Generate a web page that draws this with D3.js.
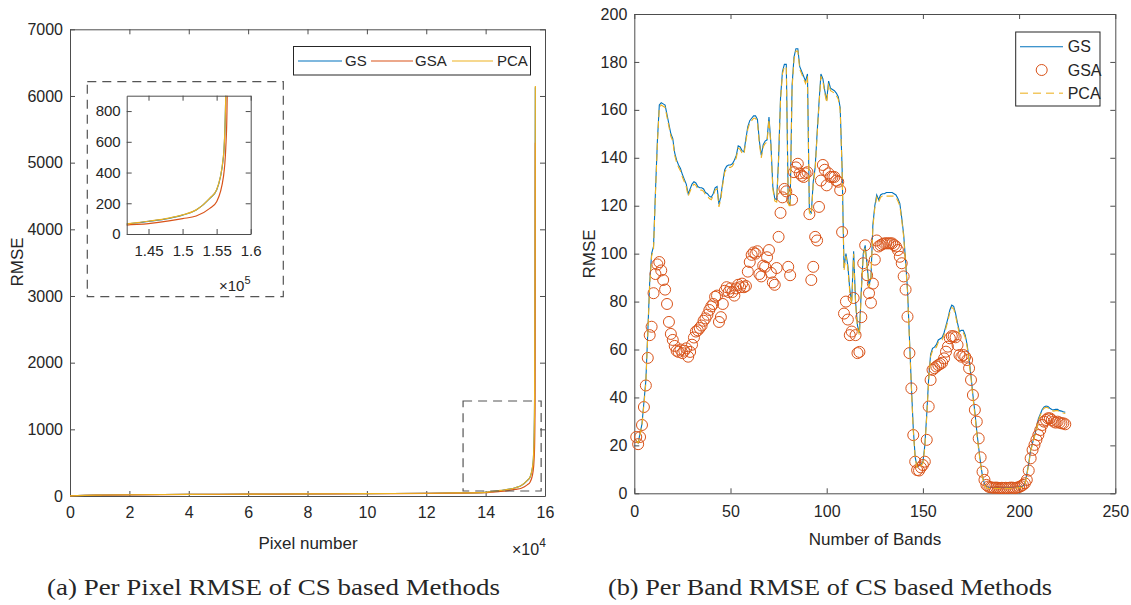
<!DOCTYPE html>
<html>
<head>
<meta charset="utf-8">
<script src="https://cdn.jsdelivr.net/npm/d3@7"></script>
<style>
body { margin: 0; background: #fff; }
text { font-family: "Liberation Sans", Arial, sans-serif; fill: #262626; }
.cap { font-family: "Liberation Serif", "DejaVu Serif", serif; }
</style>
</head>
<body>
<script>
var seriesNames = ["GS", "GSA", "PCA"];
var colors = ["#0072BD", "#D95319", "#EDB120"];

// (a) per pixel RMSE, sorted
var pixelNumber = [0, 5000, 10000, 20000, 40000, 60000, 80000, 100000, 120000, 130000, 140000, 141800,
    145000, 148000, 150000, 152000, 154000, 155000, 156000, 156340, 156500, 156650, 156750];
var pixelGS  = [2, 10, 14, 19, 24, 28, 32, 36, 41, 46, 55, 65, 82, 102, 123, 156, 232, 286, 503, 900, 1500, 3500, 6130];
var pixelGSA = [2, 9, 13, 18, 23, 27, 31, 34, 39, 43, 50, 58, 68, 85, 100, 117, 167, 210, 373, 560, 760, 1400, 5300];
var pixelPCA = [2, 10, 14, 19, 24, 28, 32, 36, 41, 46, 55, 66, 83, 103, 124, 157, 234, 288, 508, 910, 1520, 3550, 6150];
var pixelTicks = [0, 20000, 40000, 60000, 80000, 100000, 120000, 140000, 160000];
var pixelRmseTicks = [0, 1000, 2000, 3000, 4000, 5000, 6000, 7000];
var insetTicksX = [145000, 150000, 155000, 160000];
var insetTicksY = [0, 200, 400, 600, 800];

// (b) per band RMSE, bands 1..224
var bands = d3.range(1, 225);
var bandGS = [22,21,25,29,38,47,67,88,100,103,
  126,147,162,163,162.5,162,158,154,150,148,
  142,139,137,135.5,133,131,129,125,127,129,
  130,129.5,128,127.5,127.5,127,125.5,125,124,123.5,
  125,127.5,128,120.5,124,130,135,136.5,137,137,
  137.5,139,141,145,144.5,143,142.5,148,153,155.5,
  156.5,157.5,157.5,156,147,141,145.5,147,147.5,157,
  146,128,123,122.5,140,165,176,179,179,122,
  120,170,182,185.5,185.5,178,176,174,172,175,
  118,117,130,136,150,163,175,173,168,164,
  172,169,168.5,168,167,165.5,161,136,94,100,
  95,85,80,101,80,70,67,85,100,103.5,
  95,87,90,112,120,124.5,122.5,124.5,125,125,
  125.5,125.5,125.5,125.5,125,124.5,123,121,115,108,
  97,85,65,45,27,15,11,11.5,12,13,
  20,33,48,58,60.5,61,62,64,64.5,65,
  67,70,73,76.5,78.5,78,75,71,67.5,68,
  68,66,62,56,49,41,34,26,19,12.5,
  7,4,2.8,2.5,2.5,2.4,2.5,2.5,2.4,2.5,
  2.5,2.4,2.5,2.5,2.4,2.5,2.5,2.6,2.6,2.7,
  2.8,3,4,8,12.5,18,21,24,27,31,
  33,35,36,36.4,36.2,35.5,35,34.8,35,35,
  34.5,34.3,34,33.8];
var bandPCA = [22,21,24.5,28.5,37,46,66,87,99,102,
  125,146,161,162,161.5,161,157,153,149,147,
  141,138,136,134.5,132,130,128,124,126,128,
  129,128.5,127,126.5,126.5,126,124.5,124,123,122.5,
  124,126.5,127,119.5,123,129,134,135.5,136,136,
  136.5,138,140,144,143.5,142,141.5,147,152,154.5,
  155.5,156.5,156.5,155,146,140,144.5,146,146.5,156,
  145,127,122,121.5,139,164,175,178,178,121,
  119,169,181,184.5,184.5,177,175,173,171,174,
  117,116,129,135,149,162,174,172,167,163,
  171,168,167.5,167,166,164.5,160,135,93,99,
  94,84,79,100,79,69,66,84,99,102.5,
  94,86,89,111,119,123.5,121.5,123.5,124,124,
  124,124,124,124,124,123.5,122,120,114,107,
  96,84,64,44,26,14.5,10.5,11,11.5,12.5,
  19,32,47,57,59.5,60,61,63,63.5,64,
  66,69,72,75.5,77.5,77,74,70,66.5,67,
  67,65,61,55,48,40,33,25,18,12,
  6.5,3.5,2.3,2,2,2,2,2,2,2,
  2,2,2,2,2,2,2,2.1,2.2,2.3,
  2.4,2.6,3.6,7.5,12,17.5,20.5,23.5,26.5,30.5,
  32.5,34.5,35.5,35.9,35.7,35,34.5,34.3,34.5,34.5,
  34,33.8,33.5,33.3];
var bandGSA = [23.5,20.5,23.5,28.5,36,45,56.5,66,69.5,83.5,
  91.5,95.5,96.5,93,89,85,79,71.5,66.5,64,
  61.5,59.5,59,60,58.5,59.5,60.5,57,59,62,
  65,67.5,68,69,70,72,73,74.5,76.5,78,
  79,82,82.5,71.5,73.5,79,84.5,86,84,85.5,
  84,82.5,85.5,87,86,87.5,86,86.5,92.5,96.5,
  99.5,100.5,100,101,91.5,90.5,95,94.5,98.5,101.5,
  92,88,87,94,107,117,123.5,127,126,94.5,
  91,122.5,134,136,137.5,133.5,132.5,132,133.5,134,
  116.5,89,94.5,107,105.5,119.5,130.5,137,135,128.5,
  133.5,132,132,132,130.5,130,126.5,109,75,80,
  72.5,66,67.5,81.5,66,58.5,59,73.5,96,103.5,
  91,83.5,79.5,87.5,97.5,105.5,103,103.5,104,104.3,
  104.3,104.3,104.3,104.3,103.6,103,101.5,98.7,96,90.5,
  85,73.7,58.5,43.8,24.3,13.2,9.7,9.5,10.8,11.8,
  13.2,22.3,36.2,47.3,51.5,52.2,52.9,53.5,54,54.5,
  56.3,59.1,61.2,64.7,65.6,65.5,65.1,61.9,57.7,57,
  57.7,57,55.6,52.2,47.3,41,34.8,29.9,22.9,15,
  9,5.6,3.5,2.8,2.5,2.4,2.3,2.4,2.3,2.2,
  2.3,2.2,2.3,2.2,2.3,2.4,2.3,2.2,2.4,2.6,
  3,3.5,4.2,5.6,9.5,14.6,18.1,20.2,22.3,24.3,
  26.4,28.5,29.9,30.6,31.3,31.3,30.6,29.9,29.5,29.9,
  29.5,29.2,29.2,28.8];
var bandTicks = [0, 50, 100, 150, 200, 250];
var bandRmseTicks = [0, 20, 40, 60, 80, 100, 120, 140, 160, 180, 200];

var axisColor = "#4d4d4d";

var svg = d3.select("body").append("svg")
    .attr("width", 1131)
    .attr("height", 605);

// draws a MATLAB style box with inward ticks on all four sides
function drawBox(g, x, y, xTicks, yTicks, xFmt, yFmt, fontSize, padX, padY) {
    var x0 = x.range()[0], x1 = x.range()[1];
    var y0 = y.range()[0], y1 = y.range()[1];
    var axes = [
        g.append("g").attr("transform", `translate(0,${y0})`)
            .call(d3.axisBottom(x).tickValues(xTicks).tickFormat(xFmt).tickSizeInner(-5).tickSizeOuter(0).tickPadding(padX)),
        g.append("g").attr("transform", `translate(0,${y1})`)
            .call(d3.axisTop(x).tickValues(xTicks).tickFormat("").tickSizeInner(-5).tickSizeOuter(0)),
        g.append("g").attr("transform", `translate(${x0},0)`)
            .call(d3.axisLeft(y).tickValues(yTicks).tickFormat(yFmt).tickSizeInner(-5).tickSizeOuter(0).tickPadding(padY)),
        g.append("g").attr("transform", `translate(${x1},0)`)
            .call(d3.axisRight(y).tickValues(yTicks).tickFormat("").tickSizeInner(-5).tickSizeOuter(0))
    ];
    axes.forEach(function(a) {
        a.attr("font-size", fontSize).attr("font-family", null);
        a.selectAll("path, line").attr("stroke", axisColor);
        a.selectAll("text").attr("fill", "#262626");
    });
}

// ---------- (a) per pixel ----------
var gA = svg.append("g");
var xA = d3.scaleLinear().domain([0, 160000]).range([70, 545]);
var yA = d3.scaleLinear().domain([0, 7000]).range([496, 29.3]);

drawBox(gA, xA, yA, pixelTicks, pixelRmseTicks, d => d / 1e4, d => d, 16, 11, 7);

var pixelSeries = [pixelGS, pixelGSA, pixelPCA];
pixelSeries.forEach(function(vals, i) {
    gA.append("path")
        .datum(pixelNumber.map((p, j) => [p, vals[j]]))
        .attr("fill", "none")
        .attr("stroke", colors[i])
        .attr("stroke-width", 1.2)
        .attr("d", d3.line().x(d => xA(d[0])).y(d => yA(d[1])).curve(d3.curveMonotoneX));
});

// zoomed region marker
gA.append("rect")
    .attr("x", xA(132400)).attr("y", yA(1425))
    .attr("width", xA(158700) - xA(132400)).attr("height", yA(75) - yA(1425))
    .attr("fill", "none").attr("stroke", "#555").attr("stroke-width", 1.2)
    .attr("stroke-dasharray", "9,6");

gA.append("text").attr("transform", "translate(17,262) rotate(-90)")
    .attr("text-anchor", "middle").attr("dy", "0.35em").attr("font-size", 17).text("RMSE");
gA.append("text").attr("x", 308).attr("y", 543).attr("text-anchor", "middle")
    .attr("dy", "0.35em").attr("font-size", 17).text("Pixel number");
var exA = gA.append("text").attr("x", 512).attr("y", 555).attr("font-size", 16);
exA.append("tspan").text("\u00d710");
exA.append("tspan").attr("dy", -8).attr("font-size", 12).text("4");

// legend
var legA = gA.append("g");
legA.append("rect").attr("x", 293.5).attr("y", 46.5).attr("width", 237).attr("height", 28.5)
    .attr("fill", "#fff").attr("stroke", "#262626").attr("stroke-width", 1);
var legAx = [[298, 342, 345], [371, 413, 415], [452, 493, 497]];
seriesNames.forEach(function(n, i) {
    legA.append("line").attr("x1", legAx[i][0]).attr("x2", legAx[i][1]).attr("y1", 61).attr("y2", 61)
        .attr("stroke", colors[i]).attr("stroke-width", 1.2);
    legA.append("text").attr("x", legAx[i][2]).attr("y", 61).attr("dy", "0.35em")
        .attr("font-size", 15).text(n);
});

// inset
gA.append("rect").attr("x", 87.3).attr("y", 81.7).attr("width", 196).attr("height", 215)
    .attr("fill", "#fff").attr("stroke", "#555").attr("stroke-width", 1.2)
    .attr("stroke-dasharray", "9,6");
var gI = gA.append("g");
var xI = d3.scaleLinear().domain([141800, 160000]).range([126.7, 250.7]);
var yI = d3.scaleLinear().domain([0, 900]).range([234, 95.7]);
svg.append("defs").append("clipPath").attr("id", "clipI")
    .append("rect").attr("x", 126.7).attr("y", 95.7).attr("width", 124).attr("height", 138.3);
pixelSeries.forEach(function(vals, i) {
    gI.append("path")
        .datum(pixelNumber.map((p, j) => [p, vals[j]]))
        .attr("clip-path", "url(#clipI)")
        .attr("fill", "none")
        .attr("stroke", colors[i])
        .attr("stroke-width", 1.2)
        .attr("d", d3.line().x(d => xI(d[0])).y(d => yI(d[1])).curve(d3.curveMonotoneX));
});
drawBox(gI, xI, yI, insetTicksX, insetTicksY, d => d / 1e5, d => d, 15, 11, 6);
var exI = gI.append("text").attr("x", 219).attr("y", 291).attr("font-size", 15);
exI.append("tspan").text("\u00d710");
exI.append("tspan").attr("dy", -7).attr("font-size", 11).text("5");

gA.append("text").attr("class", "cap").attr("x", 47).attr("y", 595)
    .attr("font-size", 24).attr("textLength", 453).attr("lengthAdjust", "spacingAndGlyphs")
    .text("(a) Per Pixel RMSE of CS based Methods");

// ---------- (b) per band ----------
var gB = svg.append("g");
var xB = d3.scaleLinear().domain([0, 250]).range([634.3, 1115.3]);
var yB = d3.scaleLinear().domain([0, 200]).range([493.3, 14]);

drawBox(gB, xB, yB, bandTicks, bandRmseTicks, d => d, d => d, 16, 12, 7);

var bandLine = d3.line().x((d, i) => xB(bands[i])).y(d => yB(d));
gB.append("path").datum(bandGS)
    .attr("fill", "none").attr("stroke", colors[0]).attr("stroke-width", 1.1)
    .attr("d", bandLine);
gB.selectAll("circle.gsa").data(bandGSA).enter().append("circle")
    .attr("class", "gsa")
    .attr("cx", (d, i) => xB(bands[i]))
    .attr("cy", d => yB(d))
    .attr("r", 5.5)
    .attr("fill", "none").attr("stroke", colors[1]).attr("stroke-width", 1);
gB.append("path").datum(bandPCA)
    .attr("fill", "none").attr("stroke", colors[2]).attr("stroke-width", 1.1)
    .attr("stroke-dasharray", "7,4")
    .attr("d", bandLine);

gB.append("text").attr("transform", "translate(589,254) rotate(-90)")
    .attr("text-anchor", "middle").attr("dy", "0.35em").attr("font-size", 17).text("RMSE");
gB.append("text").attr("x", 875).attr("y", 539).attr("text-anchor", "middle")
    .attr("dy", "0.35em").attr("font-size", 17).text("Number of Bands");

var legB = gB.append("g");
legB.append("rect").attr("x", 1015.7).attr("y", 32).attr("width", 84.3).attr("height", 74)
    .attr("fill", "#fff").attr("stroke", "#262626").attr("stroke-width", 1);
var legBy = [46.7, 70, 93.3];
legB.append("line").attr("x1", 1020).attr("x2", 1063).attr("y1", legBy[0]).attr("y2", legBy[0])
    .attr("stroke", colors[0]).attr("stroke-width", 1.1);
legB.append("circle").attr("cx", 1041.7).attr("cy", legBy[1]).attr("r", 5.5)
    .attr("fill", "none").attr("stroke", colors[1]);
legB.append("line").attr("x1", 1020).attr("x2", 1063).attr("y1", legBy[2]).attr("y2", legBy[2])
    .attr("stroke", colors[2]).attr("stroke-width", 1.4).attr("stroke-dasharray", "8,5")
    .attr("opacity", 0.7);
seriesNames.forEach(function(n, i) {
    legB.append("text").attr("x", 1067.7).attr("y", legBy[i]).attr("dy", "0.35em")
        .attr("font-size", 16).text(n);
});

gB.append("text").attr("class", "cap").attr("x", 608).attr("y", 595)
    .attr("font-size", 24).attr("textLength", 444).attr("lengthAdjust", "spacingAndGlyphs")
    .text("(b) Per Band RMSE of CS based Methods");
</script>
</body>
</html>
